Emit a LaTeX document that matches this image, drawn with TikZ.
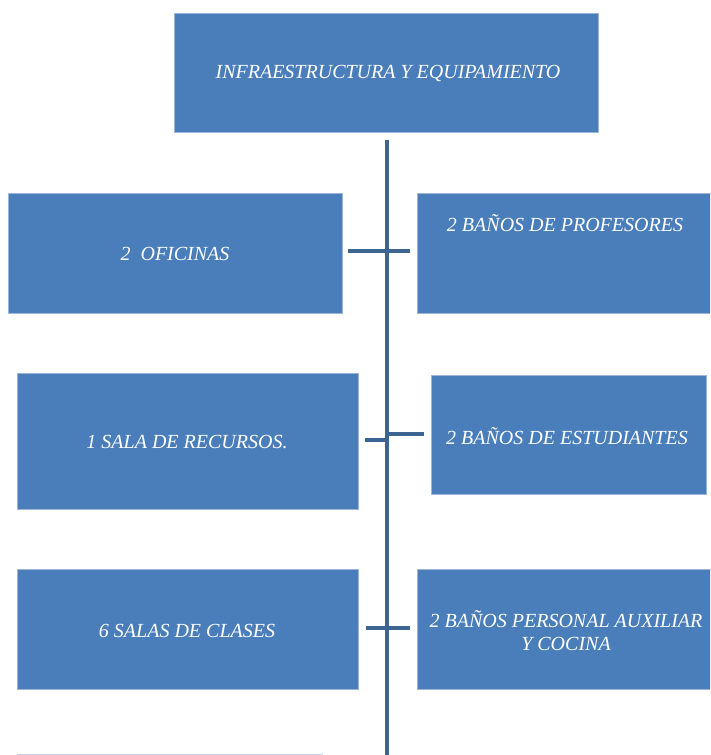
\documentclass[tikz,border=0pt]{standalone}
\usepackage{fontspec}
\setmainfont{Liberation Serif}
\definecolor{boxblue}{HTML}{4A7EBB}
\definecolor{boxedge}{HTML}{9DB6D8}
\definecolor{linkblue}{HTML}{3C6592}
\begin{document}
\begin{tikzpicture}[x=1pt,y=-1pt,
  blk/.style={draw=boxedge,line width=0.6pt,fill=boxblue,rectangle,inner sep=0pt},
  lbl/.style={text=white,font=\itshape\fontsize{20}{23}\selectfont,align=center,inner sep=0pt},
  link/.style={draw=linkblue,line width=4.5pt}]
\useasboundingbox (0,0) rectangle (710,755);
\clip (0,0) rectangle (710,755);
\fill[white] (0,0) rectangle (710,755);
% boxes
\node[blk,minimum width=424pt,minimum height=119pt] (top) at (386,72.5) {};
\node[lbl] (toptxt) at (388,73) {INFRAESTRUCTURA Y EQUIPAMIENTO};
\node[blk,minimum width=334pt,minimum height=120pt] (ofi) at (175,253) {};
\node[lbl] (ofitxt) at (175,254) {2\ \ OFICINAS};
\node[blk,minimum width=300pt,minimum height=120pt] (prof) at (567,253) {};
\node[lbl] (proftxt) at (565,223) {2 BAÑOS DE PROFESORES};
\node[blk,minimum width=341pt,minimum height=136pt] (rec) at (187.5,441) {};
\node[lbl] (rectxt) at (187,442) {1 SALA DE RECURSOS.};
\node[blk,minimum width=275pt,minimum height=119pt] (est) at (568.5,434.5) {};
\node[lbl] (esttxt) at (567,436) {2 BAÑOS DE ESTUDIANTES};
\node[blk,minimum width=341pt,minimum height=120pt] (cla) at (187.5,629) {};
\node[lbl] (clatxt) at (187,631) {6 SALAS DE CLASES};
\node[blk,minimum width=300pt,minimum height=120pt] (aux) at (567,629) {};
\node[lbl] (auxtxt) at (566,631) {2 BAÑOS PERSONAL AUXILIAR\\Y COCINA};
\node[blk,draw=boxedge!60,fill=white,minimum width=305pt,minimum height=40pt,anchor=north west] (last) at (17,754) {};
% trunk
\coordinate (tA) at (387,140);
\coordinate (tB) at (387,755);
\draw[link] (tA) -- (tB);
% stubs
\coordinate (s1a) at (348,251); \coordinate (s1b) at (410,251);
\draw[link] (s1a) -- (s1b);
\coordinate (s2a) at (365,440); \coordinate (s2m) at (387,440);
\coordinate (s2c) at (387,434); \coordinate (s2b) at (424,434);
\draw[link] (s2a) -- (s2m);
\draw[link] (s2c) -- (s2b);
\coordinate (s3a) at (366,628); \coordinate (s3b) at (410,628);
\draw[link] (s3a) -- (s3b);
\end{tikzpicture}
\end{document}
